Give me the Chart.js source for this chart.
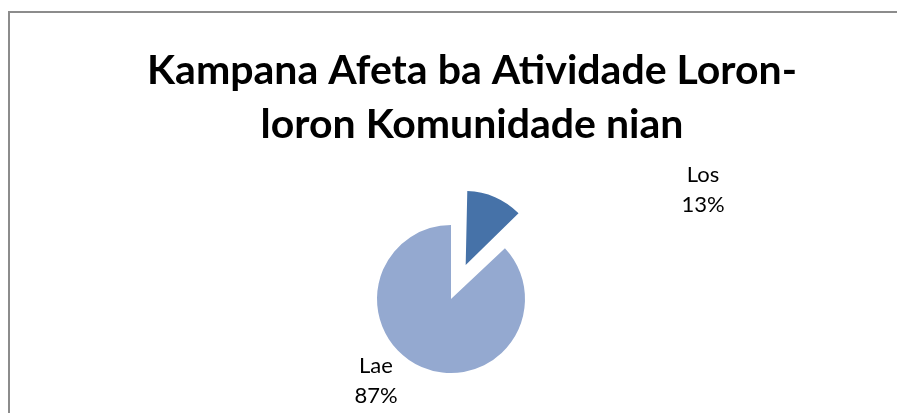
<!DOCTYPE html>
<html lang="tet">
<head>
    <meta charset="UTF-8">
    <title>Kampana Afeta ba Atividade Loron-loron Komunidade nian</title>
    <script src="https://cdn.jsdelivr.net/npm/chart.js"></script>
    <style>
        body {
            margin: 0;
            width: 897px;
            height: 413px;
            overflow: hidden;
            background: #fff;
            position: relative;
        }

        .frame {
            position: absolute;
            left: 8px;
            top: 11px;
            width: 1000px;
            height: 600px;
            border: 2px solid #8c8c8c;
        }

        .chart-box {
            position: absolute;
            left: 0;
            top: 0;
            width: 897px;
            height: 413px;
        }
    </style>
</head>
<body>
    <div class="frame"></div>
    <div class="chart-box">
        <canvas id="pie-chart" width="897" height="413"></canvas>
    </div>

    <script>
        // Dadus
        const titleLines = ['Kampana Afeta ba Atividade Loron-', 'loron Komunidade nian'];
        const categories = ['Los', 'Lae'];
        const values = [13, 87];
        const sliceColors = ['#4672a8', '#94a9d0'];
        const sliceOffsets = [148, 0]; // Los separadu husi pie

        // Pozisaun label nian relativu ba sentru pie
        const labelShift = [[252, -117], [-75, 74]];

        // Titulu (sentru la hanesan ho pie)
        const titlePlugin = {
            id: 'excelTitle',
            afterDraw(chart) {
                const { ctx } = chart;
                ctx.save();
                ctx.fillStyle = '#000';
                ctx.font = 'bold 41px Lato, sans-serif';
                ctx.textAlign = 'center';
                ctx.textBaseline = 'alphabetic';
                titleLines.forEach((line, i) => {
                    ctx.fillText(line, 472, 84 + i * 54);
                });
                ctx.restore();
            }
        };

        // Koriji raiu ba fatia ne'ebé separadu
        const offsetFixPlugin = {
            id: 'offsetFix',
            beforeDatasetsDraw(chart) {
                const meta = chart.getDatasetMeta(0);
                meta.data.forEach((arc, i) => {
                    const off = (sliceOffsets[i] || 0) / 4;
                    if (!off) return;
                    const circ = arc.endAngle - arc.startAngle;
                    const fix = 1 - Math.sin(Math.min(Math.PI, circ));
                    arc.outerRadius = meta.data[1].outerRadius - off * fix;
                });
            }
        };

        // Label ho persentajen
        const labelPlugin = {
            id: 'pieLabels',
            afterDatasetsDraw(chart) {
                const { ctx } = chart;
                const meta = chart.getDatasetMeta(0);
                const total = values.reduce((a, b) => a + b, 0);
                ctx.save();
                ctx.fillStyle = '#000';
                ctx.font = '22px Lato, sans-serif';
                ctx.textAlign = 'center';
                ctx.textBaseline = 'alphabetic';
                meta.data.forEach((arc, i) => {
                    const x = arc.x + labelShift[i][0];
                    const y = arc.y + labelShift[i][1];
                    ctx.fillText(categories[i], x, y);
                    ctx.fillText(Math.round(values[i] / total * 100) + '%', x, y + 30);
                });
                ctx.restore();
            }
        };

        new Chart(document.getElementById('pie-chart'), {
            type: 'pie',
            data: {
                labels: categories,
                datasets: [{
                    data: values,
                    backgroundColor: sliceColors,
                    borderWidth: 0,
                    offset: sliceOffsets,
                }],
            },
            options: {
                responsive: false,
                animation: false,
                radius: 74,
                layout: {
                    padding: { left: 5, right: 0, top: 185, bottom: 0 },
                },
                plugins: {
                    legend: { display: false },
                    title: { display: false },
                    tooltip: { enabled: false },
                },
            },
            plugins: [offsetFixPlugin, labelPlugin, titlePlugin],
        });
    </script>
</body>
</html>
